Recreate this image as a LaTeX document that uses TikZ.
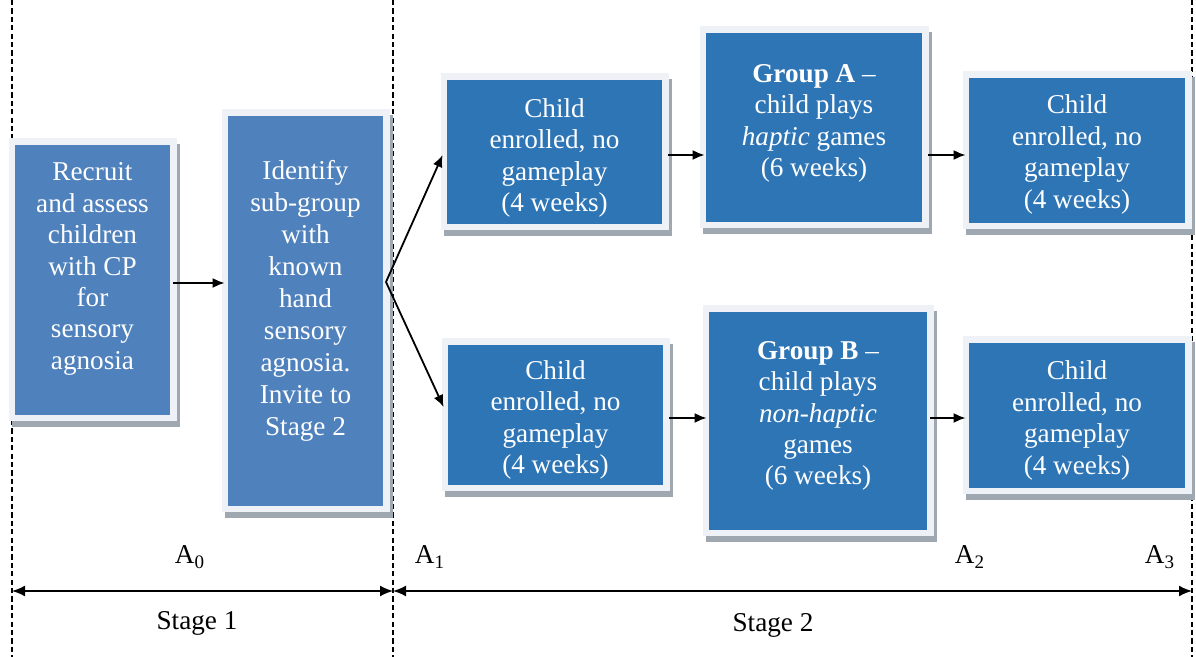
\documentclass[tikz,border=0pt]{standalone}
\usepackage{fontspec}
\setmainfont{Liberation Serif}
\usetikzlibrary{arrows.meta,calc}
\definecolor{lblue}{HTML}{4F81BD}
\definecolor{dblue}{HTML}{2E75B6}
\definecolor{bordc}{HTML}{EEF2F7}
\definecolor{shadc}{HTML}{9FA7B0}
\tikzset{
 base/.style={inner sep=0pt,
   preaction={fill=shadc, draw=shadc, line width=6.5pt, transform canvas={shift={(1.5pt,-3pt)}}},
   preaction={draw=bordc, line width=6.5pt}},
 lbox/.style={base, fill=lblue},
 dbox/.style={base, fill=dblue},
 tl/.style={text=white, align=center, inner sep=0pt, font=\fontsize{13.6}{15.7}\selectfont},
 arr/.style={-{Latex[length=6pt,width=5pt]}, line width=0.9pt},
 dbl/.style={{Latex[length=6.5pt,width=5.5pt]}-{Latex[length=6.5pt,width=5.5pt]}, line width=0.9pt},
 sep/.style={dash pattern=on 2.6pt off 1.6pt, line width=0.9pt},
 lab/.style={font=\fontsize{13.6}{15.5}\selectfont, inner sep=0pt}
}
\begin{document}
\begin{tikzpicture}[x=0.5pt,y=-0.5pt]
\useasboundingbox (0,0) rectangle (1196,657);

% separators
\coordinate (s0t) at (12,0);   \coordinate (s0b) at (12,657);
\coordinate (s1t) at (393,0);  \coordinate (s1b) at (393,657);
\coordinate (s2t) at (1192,0); \coordinate (s2b) at (1192,657);
\draw[sep] (s0t) -- (s0b);
\draw[sep] (s1t) -- (s1b);
\draw[sep] (s2t) -- (s2b);

% boxes
\node[lbox, minimum width=77.5pt, minimum height=135pt,
  label={[tl, yshift=5.5pt]center:{Recruit\\and assess\\children\\with CP\\for\\sensory\\agnosia}}]
  (b1) at (92.5,280) {};
\node[lbox, minimum width=77.5pt, minimum height=195pt,
  label={[tl, font=\fontsize{13.6}{16}\selectfont, yshift=5pt]center:{Identify\\sub-group\\with\\known\\hand\\sensory\\agnosia.\\Invite to\\Stage 2}}]
  (b2) at (305.5,311) {};
\node[dbox, minimum width=107.5pt, minimum height=72pt,
  label={[tl, yshift=-3pt]center:{Child\\enrolled, no\\gameplay\\(4 weeks)}}]
  (b3) at (554.5,152) {};
\node[dbox, minimum width=107.5pt, minimum height=70pt,
  label={[tl, yshift=-2.5pt]center:{Child\\enrolled, no\\gameplay\\(4 weeks)}}]
  (b4) at (555.5,415) {};
\node[dbox, minimum width=108pt, minimum height=94.5pt,
  label={[tl, yshift=2pt]center:{\textbf{Group A} --\\child plays\\\textit{haptic} games\\(6 weeks)}}]
  (gA) at (814,127.5) {};
\node[dbox, minimum width=109pt, minimum height=109pt,
  label={[tl, yshift=2.5pt]center:{\textbf{Group B} --\\child plays\\\textit{non-haptic}\\games\\(6 weeks)}}]
  (gB) at (818,421) {};
\node[dbox, minimum width=108pt, minimum height=72.5pt,
  label={[tl, yshift=-2pt]center:{Child\\enrolled, no\\gameplay\\(4 weeks)}}]
  (b5) at (1077,150.5) {};
\node[dbox, minimum width=108pt, minimum height=72.5pt,
  label={[tl, yshift=-2.5pt]center:{Child\\enrolled, no\\gameplay\\(4 weeks)}}]
  (b6) at (1077,415.5) {};

% connectors
\draw[arr, shorten <=1.5pt, shorten >=1.5pt] (b1.east |- 0,283) -- (b2.west |- 0,283);
\coordinate (fan) at (386,282);
\draw[arr] (fan) -- ([xshift=-2pt,yshift=-1.5pt]b3.west);
\draw[arr] (fan) -- ([xshift=-2pt,yshift=4pt]b4.west);
\draw[arr, shorten <=3pt, shorten >=0.5pt] (b3.east |- 0,155) -- (gA.west |- 0,155);
\draw[arr, shorten <=3pt, shorten >=1.5pt] (gA.east |- 0,155) -- (b5.west |- 0,155);
\draw[arr, shorten <=3pt, shorten >=1pt] (b4.east |- 0,418) -- (gB.west |- 0,418);
\draw[arr, shorten <=1.5pt, shorten >=1.5pt] (gB.east |- 0,418) -- (b6.west |- 0,418);

% timeline
\coordinate (t0) at (12,591);
\coordinate (t1) at (393,591);
\coordinate (t2) at (1192,591);
\draw[dbl] (t0) -- (t1);
\draw[dbl] (t1) -- (t2);

\node[lab] (a0) at (190,557) {A\textsubscript{0}};
\node[lab] (a1) at (430,557) {A\textsubscript{1}};
\node[lab] (a2) at (970,557) {A\textsubscript{2}};
\node[lab] (a3) at (1160,557) {A\textsubscript{3}};
\node[lab] (st1) at (197,623) {Stage 1};
\node[lab] (st2) at (773,625) {Stage 2};
\end{tikzpicture}
\end{document}
